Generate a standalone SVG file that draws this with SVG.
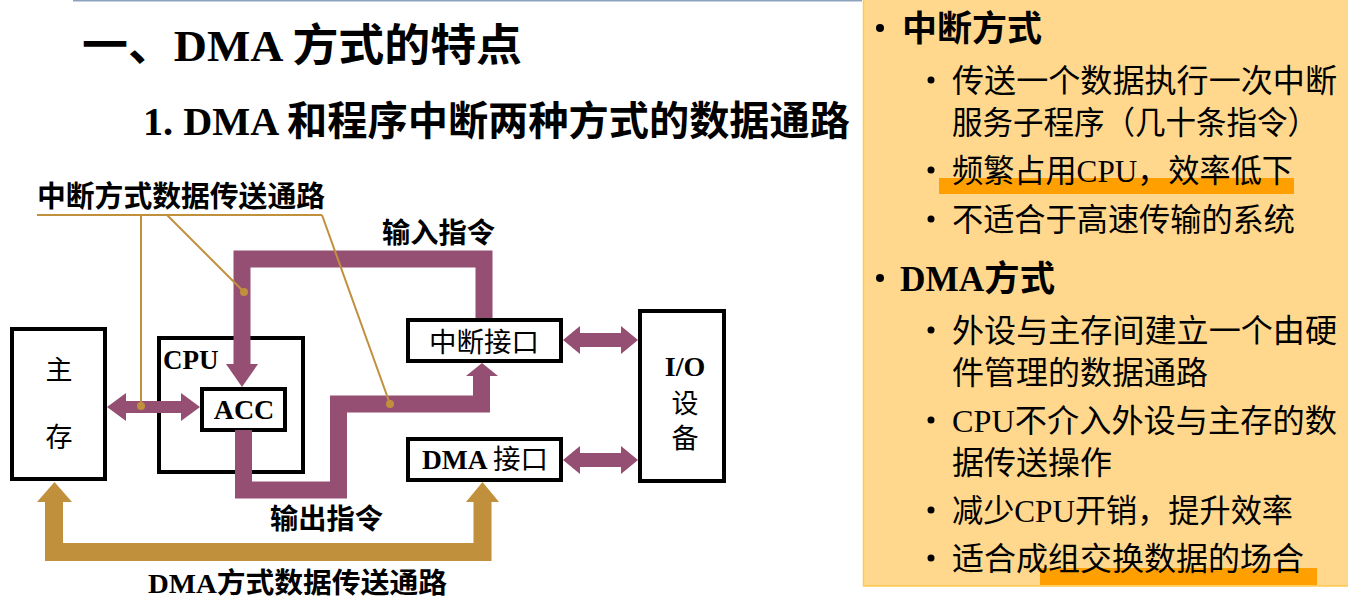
<svg xmlns="http://www.w3.org/2000/svg" width="1348" height="598" viewBox="0 0 1348 598">
  <style>
    .txt { font-family: "Liberation Serif", "Noto Sans CJK SC", serif; fill: #000; }
    .b { font-weight: bold; }
    .n { font-weight: normal; }
    .box { fill: #fff; stroke: #000; stroke-width: 4; }
    .pur { fill: none; stroke: #954F72; stroke-width: 17; stroke-linejoin: miter; }
    .purf { fill: #954F72; }
    .gold { fill: none; stroke: #C0903D; stroke-width: 18; stroke-linejoin: miter; }
    .goldf { fill: #C0903D; }
    .lead { fill: none; stroke: #C0903D; stroke-width: 2; }
    .hl { fill: #FFA000; }
    .bul { fill: #000; }
  </style>

  <rect x="0" y="0" width="1348" height="598" fill="#fff"/>
  <line x1="73" y1="0.5" x2="862" y2="0.5" stroke="#8CA3BD" stroke-width="2"/>

  <!-- headings -->
  <text class="txt b" x="82" y="61" font-size="44" textLength="440" lengthAdjust="spacingAndGlyphs">一、DMA 方式的特点</text>
  <text class="txt b" x="143" y="135" font-size="40" textLength="707" lengthAdjust="spacingAndGlyphs">1. DMA 和程序中断两种方式的数据通路</text>

  <!-- summary panel -->
  <g id="panel">
    <rect x="863.5" y="-2" width="490" height="588" fill="#FFD88D" stroke="#FFC94D" stroke-width="1.5"/>
    <rect class="hl" x="939" y="178" width="355" height="16"/>
    <rect class="hl" x="1040" y="568" width="277" height="17"/>
    <circle class="bul" cx="880" cy="28" r="4"/>
    <circle class="bul" cx="931" cy="80" r="3.5"/>
    <circle class="bul" cx="931" cy="170" r="3.5"/>
    <circle class="bul" cx="931" cy="219" r="3.5"/>
    <circle class="bul" cx="880" cy="278" r="4"/>
    <circle class="bul" cx="931" cy="330" r="3.5"/>
    <circle class="bul" cx="931" cy="420" r="3.5"/>
    <circle class="bul" cx="931" cy="510" r="3.5"/>
    <circle class="bul" cx="931" cy="558" r="3.5"/>
    <text class="txt b" x="902" y="41" font-size="35">中断方式</text>
    <text class="txt" x="952" y="92" font-size="32" textLength="385" lengthAdjust="spacingAndGlyphs">传送一个数据执行一次中断</text>
    <text class="txt" x="952" y="134" font-size="32" textLength="366" lengthAdjust="spacingAndGlyphs">服务子程序（几十条指令）</text>
    <text class="txt" x="952" y="182" font-size="32" textLength="341" lengthAdjust="spacingAndGlyphs">频繁占用CPU，效率低下</text>
    <text class="txt" x="952" y="231" font-size="32" textLength="343" lengthAdjust="spacingAndGlyphs">不适合于高速传输的系统</text>
    <text class="txt b" x="900" y="291" font-size="35" textLength="155" lengthAdjust="spacingAndGlyphs">DMA方式</text>
    <text class="txt" x="952" y="342" font-size="32" textLength="385" lengthAdjust="spacingAndGlyphs">外设与主存间建立一个由硬</text>
    <text class="txt" x="952" y="384" font-size="32" textLength="256" lengthAdjust="spacingAndGlyphs">件管理的数据通路</text>
    <text class="txt" x="952" y="432" font-size="32" textLength="385" lengthAdjust="spacingAndGlyphs">CPU不介入外设与主存的数</text>
    <text class="txt" x="952" y="474" font-size="32" textLength="160" lengthAdjust="spacingAndGlyphs">据传送操作</text>
    <text class="txt" x="952" y="522" font-size="32" textLength="341" lengthAdjust="spacingAndGlyphs">减少CPU开销，提升效率</text>
    <text class="txt" x="952" y="570" font-size="32" textLength="352" lengthAdjust="spacingAndGlyphs">适合成组交换数据的场合</text>
  </g>

  <!-- units -->
  <g id="memory">
    <rect class="box" x="12" y="329" width="93" height="150"/>
    <text class="txt" x="59" y="380" font-size="27" text-anchor="middle">主</text>
    <text class="txt" x="59" y="447" font-size="27" text-anchor="middle">存</text>
  </g>
  <g id="cpu">
    <rect class="box" x="159" y="338" width="144" height="134"/>
    <text class="txt b" x="163" y="369" font-size="27">CPU</text>
  </g>
  <g id="acc">
    <rect class="box" x="202" y="389" width="83" height="41"/>
    <text class="txt b" x="244" y="419" font-size="28" text-anchor="middle">ACC</text>
  </g>
  <g id="int-port">
    <rect class="box" x="408" y="320" width="153" height="41"/>
    <text class="txt" x="484" y="352" font-size="27" text-anchor="middle" textLength="110" lengthAdjust="spacingAndGlyphs">中断接口</text>
  </g>
  <g id="dma-port">
    <rect class="box" x="408" y="439" width="153" height="41"/>
    <text class="txt b" x="485" y="469" font-size="27" text-anchor="middle" textLength="126" lengthAdjust="spacingAndGlyphs">DMA <tspan class="n">接口</tspan></text>
  </g>
  <g id="io">
    <rect class="box" x="640" y="311" width="84" height="170"/>
    <text class="txt b" x="685" y="376" font-size="28" text-anchor="middle">I/O</text>
    <text class="txt" x="685" y="413" font-size="27" text-anchor="middle">设</text>
    <text class="txt" x="685" y="448" font-size="27" text-anchor="middle">备</text>
  </g>

  <!-- data paths -->
  <g id="connectors">
    <!-- input instruction path: interrupt port to ACC -->
    <polyline class="pur" points="484,318 484,259 242,259 242,366"/>
    <polygon class="purf" points="226,364 258,364 242,387"/>
    <!-- output instruction path: ACC to interrupt port -->
    <polyline class="pur" points="243.5,430 243.5,490 338.5,490 338.5,404 481.5,404 481.5,375"/>
    <polygon class="purf" points="466,376 498,376 482,363"/>
    <!-- memory <-> ACC -->
    <polygon class="purf" points="107,407 126,393 126,401 181,401 181,393 200,407 181,421 181,413 126,413 126,421"/>
    <!-- ports <-> I/O device -->
    <polygon class="purf" points="563,340 580,326 580,333 621,333 621,326 638,340 621,354 621,347 580,347 580,354"/>
    <polygon class="purf" points="563,460 580,446 580,453 621,453 621,446 638,460 621,474 621,467 580,467 580,474"/>
    <!-- DMA path: memory <-> DMA port -->
    <polyline class="gold" points="54,500 54,552 482.5,552 482.5,500"/>
    <polygon class="goldf" points="37,502 72,502 54.5,482"/>
    <polygon class="goldf" points="466,502 499,502 482.5,482"/>
    <!-- callout leaders -->
    <polyline class="lead" points="37,215 322,215"/>
    <line class="lead" x1="141" y1="215" x2="141" y2="406"/>
    <line class="lead" x1="167" y1="215" x2="244" y2="292"/>
    <line class="lead" x1="322" y1="215" x2="390" y2="404"/>
    <circle class="goldf" cx="141" cy="406" r="4"/>
    <circle class="goldf" cx="244" cy="292" r="4"/>
    <circle class="goldf" cx="390" cy="404" r="4"/>
  </g>

  <!-- path labels -->
  <g id="labels">
    <text class="txt b" x="37" y="207" font-size="29" textLength="288" lengthAdjust="spacingAndGlyphs">中断方式数据传送通路</text>
    <text class="txt b" x="382" y="243" font-size="28" textLength="113" lengthAdjust="spacingAndGlyphs">输入指令</text>
    <text class="txt b" x="270" y="529" font-size="28" textLength="113" lengthAdjust="spacingAndGlyphs">输出指令</text>
    <text class="txt b" x="148" y="593" font-size="28" textLength="299" lengthAdjust="spacingAndGlyphs">DMA方式数据传送通路</text>
  </g>
</svg>
